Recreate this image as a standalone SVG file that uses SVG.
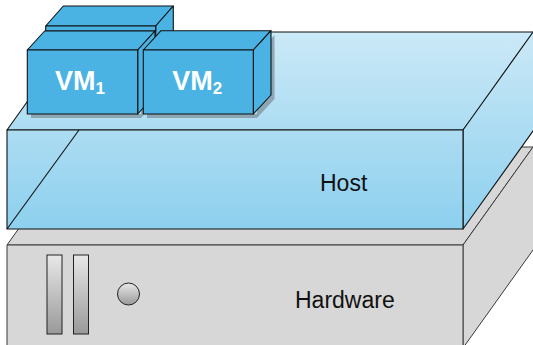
<svg xmlns="http://www.w3.org/2000/svg" width="533" height="345" viewBox="0 0 533 345">
<style>
.hw{fill:#d7d7d7;stroke:#3a3a3a;stroke-width:1;stroke-linejoin:round}
.ho{fill:url(#hostg);stroke:#111;stroke-width:1.1;stroke-linejoin:round}
.vm{fill:#4ab3e4;stroke:#111;stroke-width:1.1;stroke-linejoin:round}
.sh{fill:#7f929e;opacity:0.75}
.btn{fill:url(#btng);stroke:#222;stroke-width:1}
.lbl{font-family:"Liberation Sans",Arial,sans-serif;font-size:23px;fill:#111}
.vml{font-family:"Liberation Sans",Arial,sans-serif;font-size:27px;font-weight:bold;fill:#fff}
</style>
<defs>
<linearGradient id="hostg" gradientUnits="userSpaceOnUse" x1="0" y1="32" x2="0" y2="229">
<stop offset="0" stop-color="#cbe9f7"/>
<stop offset="1" stop-color="#8dd0ee"/>
</linearGradient>
<linearGradient id="btng" x1="0" y1="0" x2="0" y2="1">
<stop offset="0" stop-color="#e8e8e8"/>
<stop offset="1" stop-color="#999"/>
</linearGradient>
</defs>
<rect width="533" height="345" fill="#fff"/>
<g id="hardware">
<polygon class="hw" points="7,245 77,147 533,147 463,245"/>
<polygon class="hw" points="463,245 533,147 540,137.2 540,240.2 463,348"/>
<polygon class="hw" points="7,245 463,245 463,348 7,348"/>
<rect class="btn" x="47" y="255" width="15" height="79"/>
<rect class="btn" x="73.5" y="255" width="15" height="79"/>
<circle class="btn" cx="128.5" cy="294" r="11"/>
<text class="lbl" x="295" y="307.5">Hardware</text>
</g>
<g id="host">
<polygon class="ho" points="7,130 77,32 540,32 463,130"/>
<polygon class="ho" points="463,130 533,32 540,32 540,121.2 463,229"/>
<rect class="ho" x="7" y="130" width="456" height="99"/>
<line x1="79" y1="130" x2="7" y2="229" stroke="#111" stroke-width="1.1"/>
<text class="lbl" x="320" y="191">Host</text>
</g>
<g id="vm-back">
<polygon class="vm" points="45.7,26 63.3,6 173.3,6 155.7,26"/>
<polygon class="vm" points="155.7,26 173.3,6 173.3,40 155.7,60"/>
<rect class="vm" x="45.7" y="26" width="110" height="5"/>
</g>
<g id="vm1">
<polygon class="sh" points="31,114 141,114 141,118 31,118"/>
<polygon class="sh" points="141,118 158,99 158,35 141,54"/>
<polygon class="vm" points="27.3,50 44.6,31 155,31 137.7,50"/>
<polygon class="vm" points="137.7,50 155,31 155,95 137.7,114"/>
<rect class="vm" x="27.3" y="50" width="110.4" height="64"/>
<text class="vml" x="55" y="90">VM<tspan font-size="17" dy="4">1</tspan></text>
</g>
<g id="vm2">
<polygon class="sh" points="147,114 257,114 257,118 147,118"/>
<polygon class="sh" points="257,118 274.5,99 274.5,35 257,54"/>
<polygon class="vm" points="143.3,50 161,30.7 271,30.7 253.3,50"/>
<polygon class="vm" points="253.3,50 271,30.7 271,95 253.3,114"/>
<rect class="vm" x="143.3" y="50" width="110" height="64"/>
<text class="vml" x="172.3" y="90">VM<tspan font-size="17" dy="4">2</tspan></text>
</g>
<g id="connectors"/>
</svg>
